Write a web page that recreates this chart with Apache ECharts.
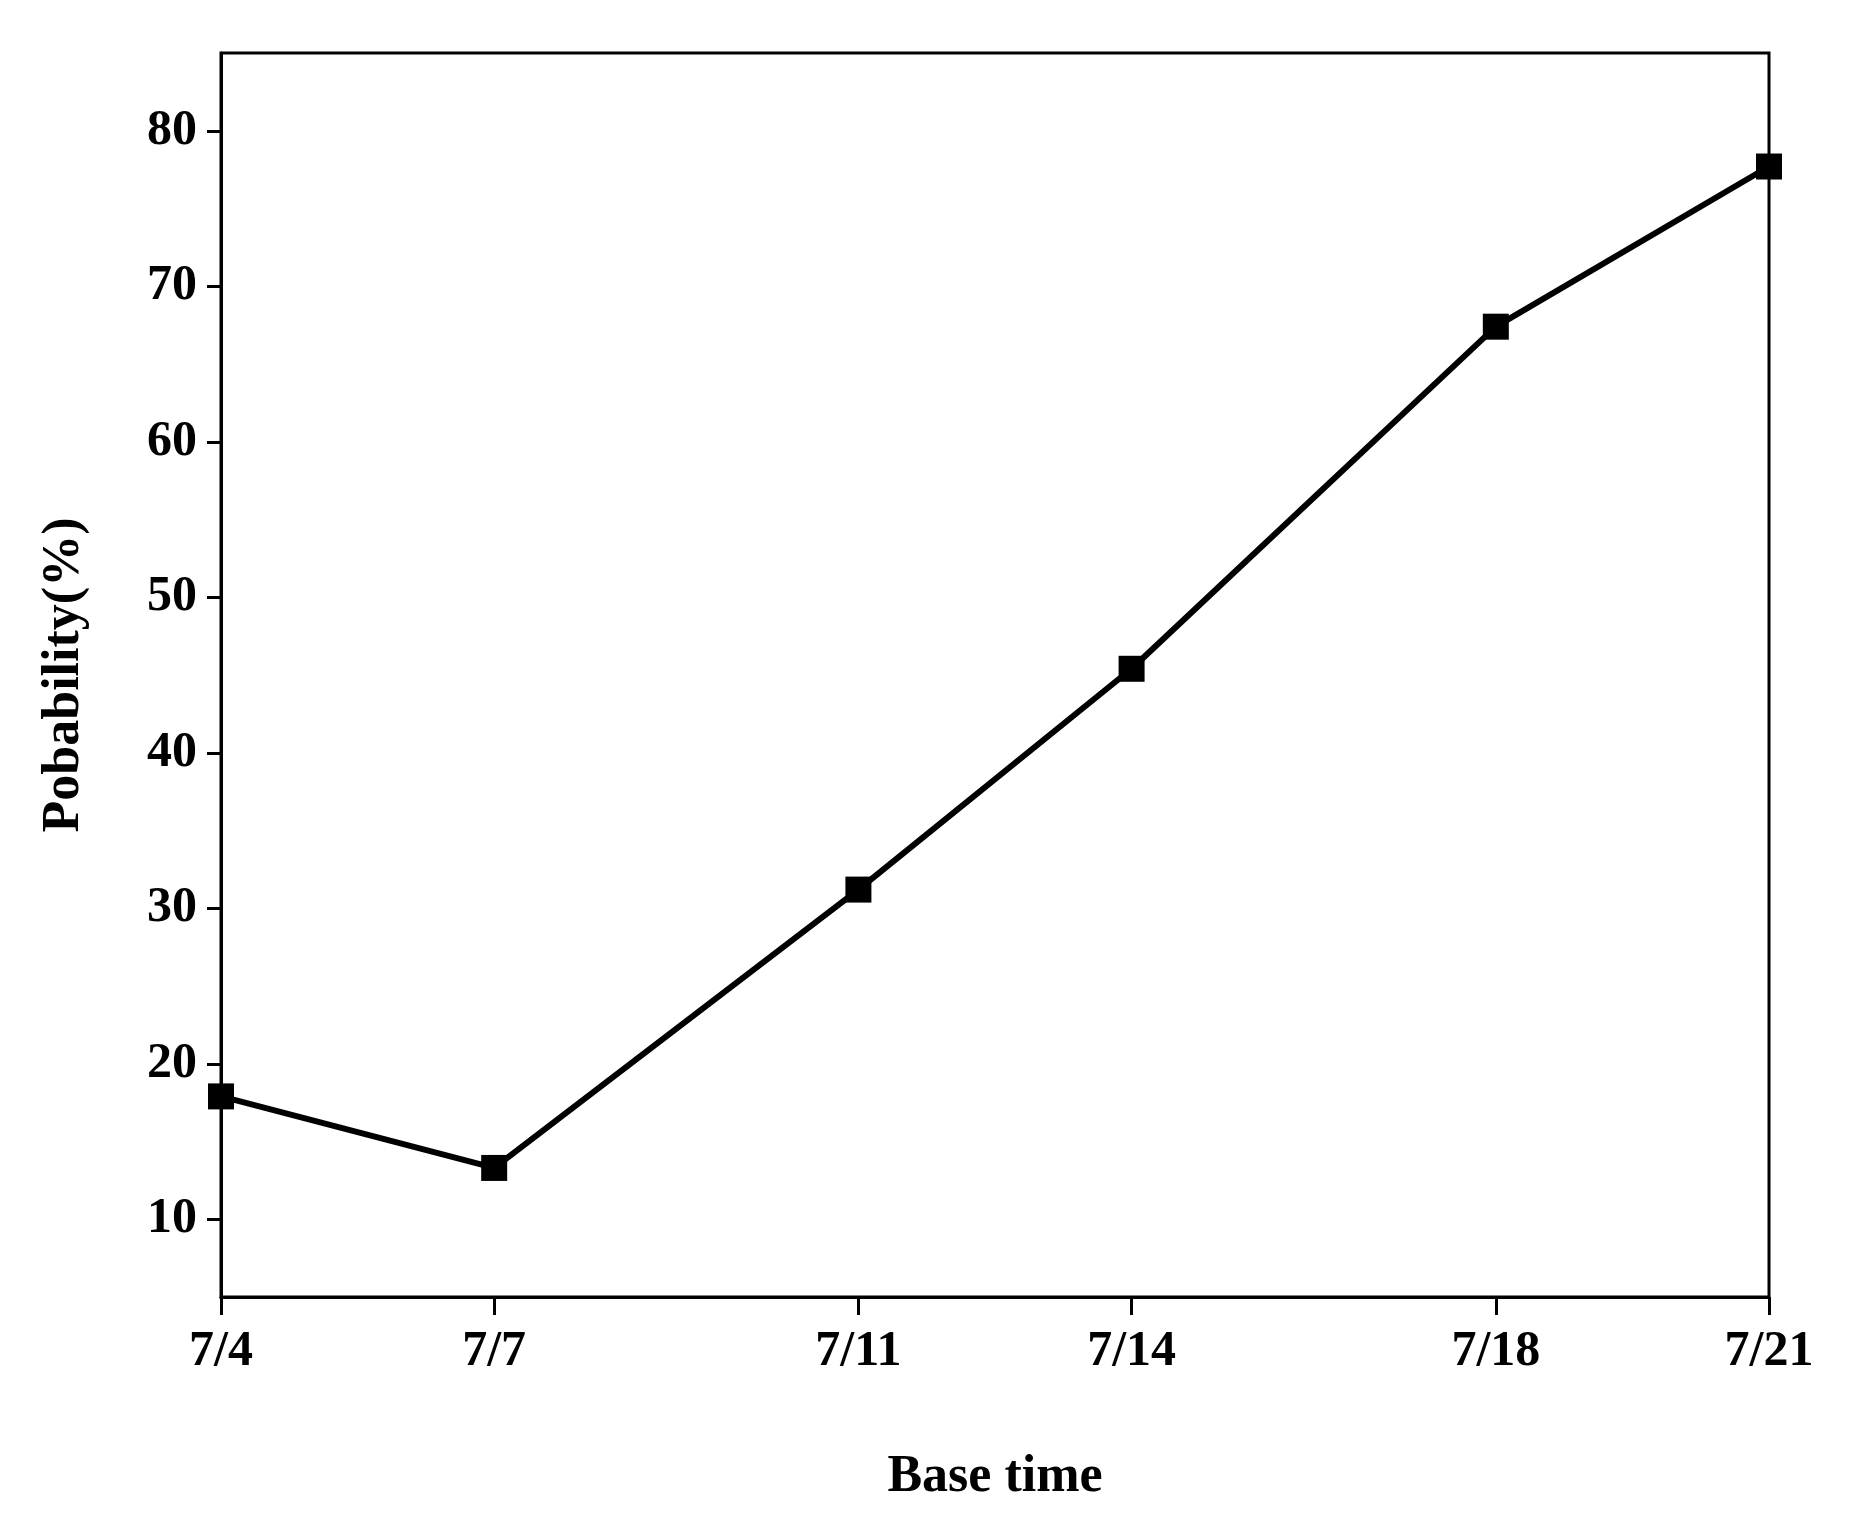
<!DOCTYPE html>
<html><head><meta charset="utf-8">
<script src="https://cdn.jsdelivr.net/npm/echarts@6/dist/echarts.min.js"></script>
<style>html,body{margin:0;padding:0;background:#fff}#c{width:1861px;height:1522px}</style>
</head><body><div id="c"></div>
<script>
const days = [4, 7, 11, 14, 18, 21];
const tickLabels = ['7/4', '7/7', '7/11', '7/14', '7/18', '7/21'];
const probability = [17.9, 13.3, 31.2, 45.4, 67.4, 77.7];
const yTicks = [10, 20, 30, 40, 50, 60, 70, 80];

const font = 'Liberation Serif';
const chart = echarts.init(document.getElementById('c'));
chart.setOption({
  backgroundColor: '#fff',
  animation: false,
  grid: { left: 221, right: 92, top: 53, bottom: 225, show: true, borderColor: '#000', borderWidth: 3, backgroundColor: 'transparent' },
  xAxis: {
    type: 'value', min: 4, max: 21,
    name: 'Base time', nameLocation: 'middle', nameGap: 155,
    nameTextStyle: { fontFamily: font, fontWeight: 'bold', fontSize: 52, color: '#000' },
    axisLine: { lineStyle: { color: '#000', width: 3 } },
    axisTick: { show: true, length: 18, lineStyle: { color: '#000', width: 3 }, customValues: days },
    axisLabel: { customValues: days, margin: 30, fontFamily: font, fontWeight: 'bold', fontSize: 50, color: '#000',
      formatter: v => tickLabels[days.indexOf(v)] },
    splitLine: { show: false }
  },
  yAxis: {
    type: 'value', min: 5, max: 85,
    name: 'Pobability(%)', nameLocation: 'middle', nameGap: 130,
    nameTextStyle: { fontFamily: font, fontWeight: 'bold', fontSize: 52, color: '#000' },
    axisLine: { show: true, lineStyle: { color: '#000', width: 3 } },
    axisTick: { show: true, length: 14, lineStyle: { color: '#000', width: 3 }, customValues: yTicks },
    axisLabel: { customValues: yTicks, margin: 24, fontFamily: font, fontWeight: 'bold', fontSize: 50, color: '#000' },
    splitLine: { show: false }
  },
  series: [{
    type: 'line',
    data: days.map((d, i) => [d, probability[i]]),
    symbol: 'rect', symbolSize: 26,
    lineStyle: { color: '#000', width: 6 },
    itemStyle: { color: '#000' }
  }]
});
</script></body></html>
